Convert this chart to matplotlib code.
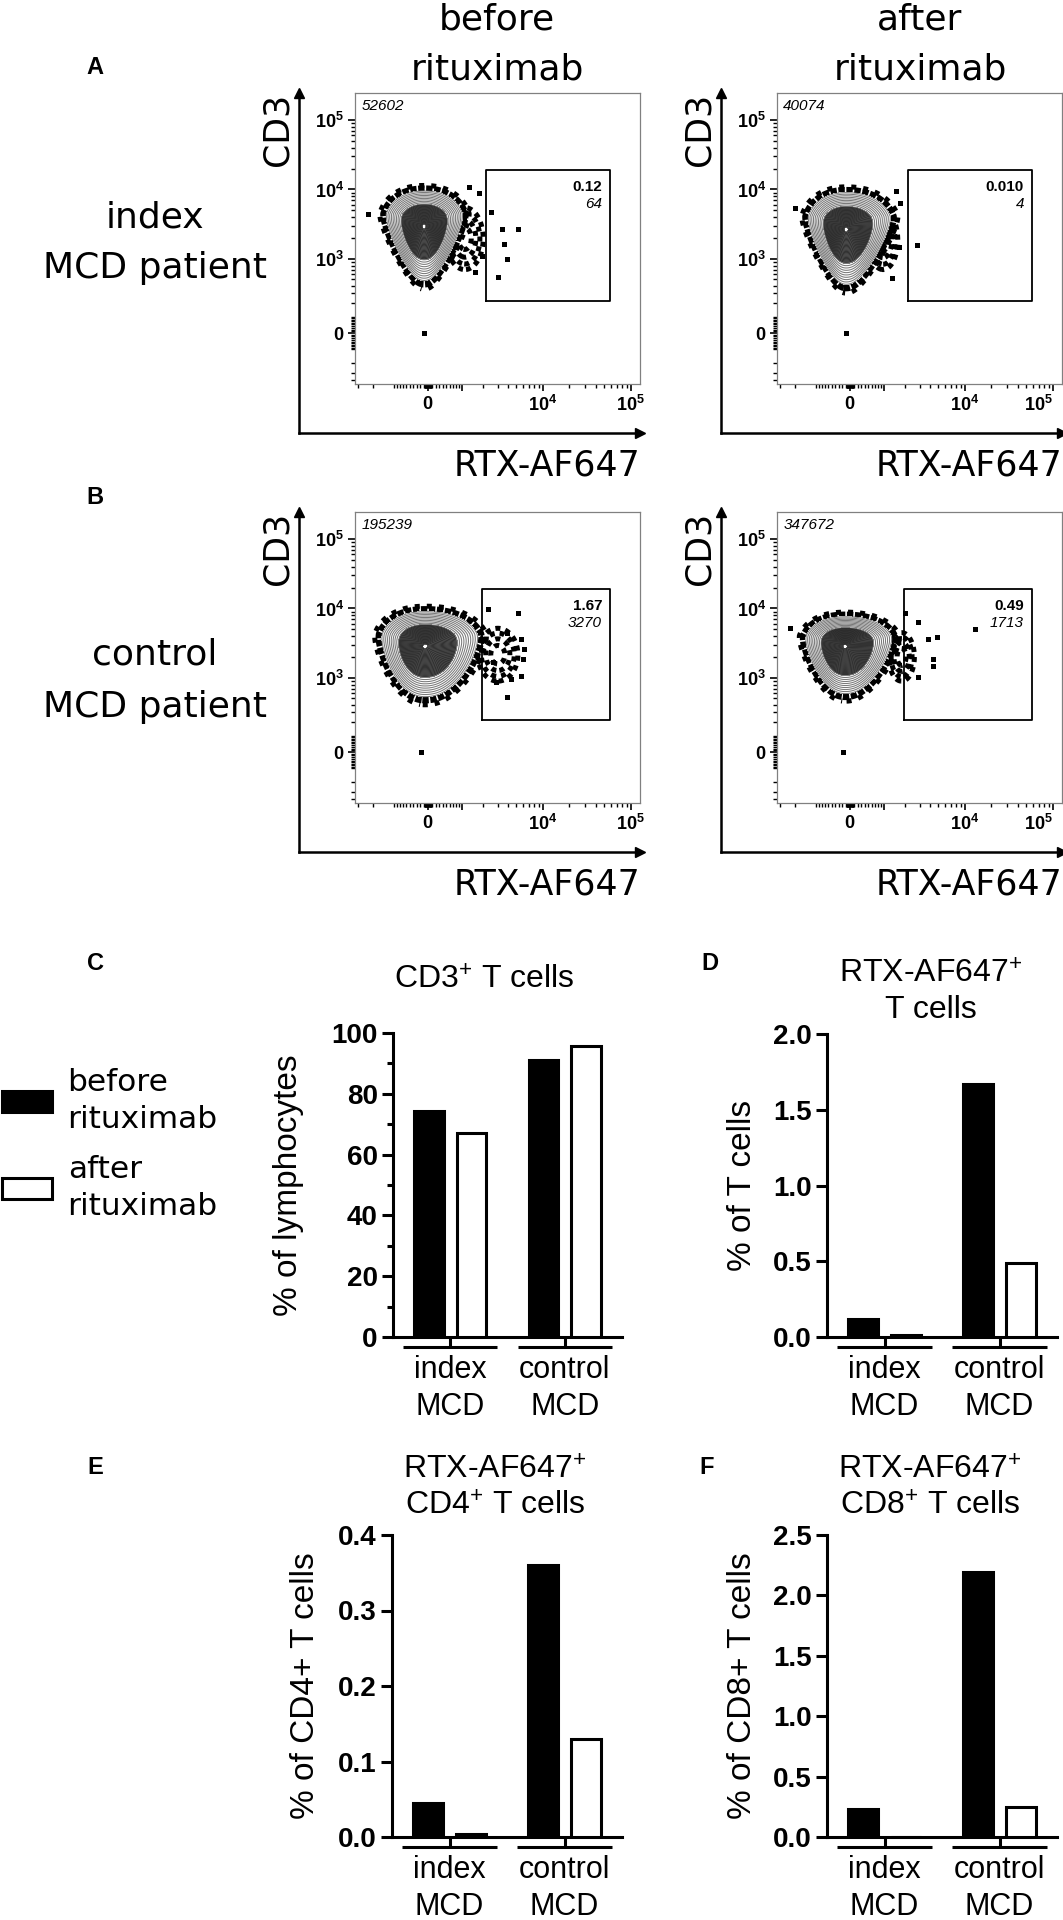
import numpy as np
import matplotlib
matplotlib.use('Agg')
import matplotlib.pyplot as plt
import matplotlib.transforms as mtransforms
from matplotlib.patches import Patch

plt.rcParams['font.family'] = ['DejaVu Sans']
plt.rcParams['mathtext.fontset'] = 'custom'
plt.rcParams['mathtext.rm'] = 'Liberation Sans'
plt.rcParams['mathtext.it'] = 'Liberation Sans:italic'
plt.rcParams['mathtext.bf'] = 'Liberation Sans:bold'
ARIAL = 'Liberation Sans'

# ---------------- flow plots: [A before, A after, B before, B after] ----------------
event_counts = ['52602', '40074', '195239', '347672']
gate_percent = ['0.12', '0.010', '1.67', '0.49']
gate_events = ['64', '4', '3270', '1713']
gate_x_lo = [2200, 2200, 1950, 1950]
gate_x_hi = [58000, 58000, 58000, 58000]
gate_y_lo = [220, 220, 220, 220]
gate_y_hi = [19000, 19000, 19000, 19000]

# main CD3+ population (centre and outer extent, data units)
pop_x_mid = [-100, -100, -80, -130]
pop_y_mid = [3000, 2700, 2900, 2900]
pop_x_lo = [-1400, -1400, -1600, -1500]
pop_x_hi = [1100, 1350, 1800, 1400]
pop_y_lo = [480, 420, 530, 590]
pop_y_hi = [9500, 9000, 9000, 7600]
pop_taper = [0.5, 0.5, 0.3, 0.35]

# dim RTX-AF647 shoulder of events next to the population
tail_x_lo = [500, 500, 1700, 1200]
tail_x_hi = [2000, 1600, 5200, 2600]
tail_y_lo = [700, 700, 900, 900]
tail_y_hi = [5500, 5000, 5200, 4500]

# single events outside the contours
out_x = [[1780, 1570, 1920, 2500, 3400, 5200, 3600, 3900, 3050, -100, -2300, 1300],
         [1720, 1660, 1340, 2780, -100, -2000, 1500],
         [5200, 5950, 5700, 3900, 2880, 4300, 5700, 3900, 2640, -180, 6200, 2300],
         [13100, 4800, 4300, 4300, 2870, 2870, 3770, -180, -2300, 2000]]
out_y = [[9000, 640, 1090, 4700, 2700, 2700, 1630, 990, 550, 0, 4500, 11000],
         [6500, 1470, 530, 1570, 0, 5500, 9500],
         [8700, 1860, 1060, 530, 870, 960, 3600, 4500, 1680, 0, 2600, 9800],
         [5000, 3900, 1860, 1470, 1030, 6300, 3600, 0, 5200, 8500]]

# ---------------- bar charts ----------------
groups = ['index\nMCD', 'control\nMCD']
cd3_before = [74.5, 91.1]
cd3_after = [67.1, 95.7]
rtx_before = [0.12, 1.67]
rtx_after = [0.01, 0.49]
cd4_before = [0.045, 0.36]
cd4_after = [0.004, 0.13]
cd8_before = [0.23, 2.19]
cd8_after = [0.0, 0.25]

W, H = 1063, 1920
fig = plt.figure(figsize=(W / 100, H / 100), dpi=100)


def rect(x0, y0, x1, y1):
    return [x0 / W, 1 - y1 / H, (x1 - x0) / W, (y1 - y0) / H]


def fig_text(x, y, s, **kw):
    fig.text(x / W, 1 - y / H, s, **kw)


X_LW, Y_LW = 1000, 175
X_LIM = (-3300, 128000)
Y_LIM = (-455, 242000)


def minor_ticks(lo, hi, decades):
    vals = {m * d * s for d in decades for m in range(1, 10) for s in (1, -1)}
    return sorted(v for v in vals if lo < v < hi and v not in (1e3, 1e4, 1e5))


def bf(s):
    return r'$\mathbf{' + s + '}$'


def flow_panel(i, x0, y0, right_col):
    # outer axes with arrows
    oax = fig.add_axes(rect(x0 - 56, y0, x0 + 285, y0 + 340))
    oax.patch.set_visible(False)
    oax.spines[['top', 'right']].set_visible(False)
    oax.spines[['left', 'bottom']].set_linewidth(1.8)
    oax.set_xticks([])
    oax.set_yticks([])
    oax.plot(1, 0, '>k', ms=7, transform=oax.transAxes, clip_on=False)
    oax.plot(0, 1, '^k', ms=7, transform=oax.transAxes, clip_on=False)
    oax.set_xlabel('RTX-AF647', loc='right', fontsize=25, labelpad=11)
    oax.set_ylabel('CD3', loc='top', fontsize=25, labelpad=3)

    ax = fig.add_axes(rect(x0, y0, x0 + 285, y0 + 291))
    ax.set_xscale('asinh', linear_width=X_LW)
    ax.set_yscale('asinh', linear_width=Y_LW)

    u = np.linspace(np.arcsinh(X_LIM[0] / X_LW), np.arcsinh(X_LIM[1] / X_LW), 600)
    v = np.linspace(np.arcsinh(Y_LIM[0] / Y_LW), np.arcsinh(Y_LIM[1] / Y_LW), 600)
    U, V = np.meshgrid(u, v)
    X, Y = X_LW * np.sinh(U), Y_LW * np.sinh(V)

    def su(x):
        return np.arcsinh(x / X_LW)

    def sv(y):
        return np.arcsinh(y / Y_LW)

    uc, vc = su(pop_x_mid[i]), sv(pop_y_mid[i])
    down = vc - sv(pop_y_lo[i])
    up = sv(pop_y_hi[i]) - vc
    half_u = np.where(U < uc, uc - su(pop_x_lo[i]), su(pop_x_hi[i]) - uc)
    half_v = np.where(V < vc, down, up)
    # widest a little above the centre, narrowing to a rounded tip at the bottom
    vw = vc + 0.35 * up
    taper = np.clip(1 + pop_taper[i] * (V - vw) / (vw - sv(pop_y_lo[i])), 0.3, 1.0)
    p = 2.2
    r_pop = (np.abs((U - uc) / (half_u * taper)) ** p
             + np.abs((V - vc) / half_v) ** p) ** (1 / p)
    tu0, tu1 = su(tail_x_lo[i]), su(tail_x_hi[i])
    tv0, tv1 = sv(tail_y_lo[i]), sv(tail_y_hi[i])
    r_tail = np.hypot((U - (tu0 + tu1) / 2) / ((tu1 - tu0) / 2),
                      (V - (tv0 + tv1) / 2) / ((tv1 - tv0) / 2))
    r_tail = np.where(r_pop < 1.05, 9, r_tail)

    # dotted halo of single events around the contours
    ax.contour(X, Y, r_pop, levels=[1.07], colors='black', linewidths=4.6,
               linestyles=[(0, (1.0, 0.25))], zorder=2)
    ax.contour(X, Y, r_pop, levels=[1.16], colors='black', linewidths=3.6,
               linestyles=[(0.8, (1.0, 1.4))], zorder=2)
    ax.contour(X, Y, r_tail, levels=[0.35, 0.6, 0.82, 1.0], colors='black',
               linewidths=3.6, linestyles=[(0, (1.0, 1.0))], zorder=2)

    # contour plot: light outer rings, dense dark core
    ax.contourf(X, Y, r_pop, levels=[0, 1.0], colors='white', zorder=3)
    ax.contourf(X, Y, r_pop, levels=[0.05, 0.62], colors='#767676', zorder=3)
    ax.contour(X, Y, r_pop, levels=np.linspace(0.62, 1.0, 10), colors='#7a7a7a',
               linewidths=0.75, zorder=4)
    ax.contour(X, Y, r_pop, levels=np.linspace(0.06, 0.6, 26), colors='#262626',
               linewidths=0.6, zorder=4)
    ax.plot(out_x[i], out_y[i], 's', color='black', ms=3.6, mew=0, zorder=3)

    gx = [gate_x_lo[i], gate_x_hi[i], gate_x_hi[i], gate_x_lo[i], gate_x_lo[i]]
    gy = [gate_y_lo[i], gate_y_lo[i], gate_y_hi[i], gate_y_hi[i], gate_y_lo[i]]
    ax.plot(gx, gy, color='black', lw=1.3, zorder=5)
    ax.annotate(gate_percent[i], xy=(gate_x_hi[i], gate_y_hi[i]), xytext=(-5.5, -12),
                textcoords='offset points', ha='right', va='center',
                fontsize=11, fontweight='bold', family=ARIAL)
    ax.annotate(gate_events[i], xy=(gate_x_hi[i], gate_y_hi[i]), xytext=(-5.5, -24.5),
                textcoords='offset points', ha='right', va='center',
                fontsize=11, style='italic', family=ARIAL)
    ax.text(0.022, 0.955, event_counts[i], transform=ax.transAxes, ha='left', va='center',
            fontsize=11, style='italic', family=ARIAL)

    ax.set_xlim(*X_LIM)
    ax.set_ylim(*Y_LIM)
    ax.set_xticks([0, 1e3, 1e4, 1e5], [bf('0'), '', bf('10^{4}'), bf('10^{5}')])
    ax.set_yticks([0, 1e3, 1e4, 1e5], [bf('0'), bf('10^{3}'), bf('10^{4}'), bf('10^{5}')])
    ax.set_xticks(minor_ticks(*X_LIM, [10, 100, 1000, 10000]), minor=True)
    ax.set_yticks(minor_ticks(*Y_LIM, [10, 100, 1000, 10000]), minor=True)
    ax.tick_params(which='major', length=5, width=1.2, labelsize=13, pad=3)
    ax.tick_params(which='minor', length=2.8, width=1.0)
    if right_col:
        ax.get_xticklabels()[-1].set_horizontalalignment('right')
    for s in ax.spines.values():
        s.set_color('#808080')
        s.set_linewidth(0.9)


# column titles and row labels
fig_text(497, 20, 'before', ha='center', va='center', fontsize=26)
fig_text(497, 70, 'rituximab', ha='center', va='center', fontsize=26)
fig_text(920, 20, 'after', ha='center', va='center', fontsize=26)
fig_text(920, 70, 'rituximab', ha='center', va='center', fontsize=26)
fig_text(155, 217, 'index', ha='center', va='center', fontsize=26)
fig_text(155, 268, 'MCD patient', ha='center', va='center', fontsize=26)
fig_text(155, 655, 'control', ha='center', va='center', fontsize=26)
fig_text(155, 707, 'MCD patient', ha='center', va='center', fontsize=26)

flow_panel(0, 355, 93, False)
flow_panel(1, 777, 93, True)
flow_panel(2, 355, 512, False)
flow_panel(3, 777, 512, True)


def bar_panel(px, before, after, ymax, ystep, fmt, minor_step, title, title_xy,
              ylabel, ylabel_x):
    ax = fig.add_axes(rect(*px))
    pos = np.arange(1, len(groups) + 1)
    ax.bar(pos - 0.185, before, width=0.26, color='black', edgecolor='black',
           linewidth=2.2, zorder=3)
    ax.bar(pos + 0.185, after, width=0.26, color='white', edgecolor='black',
           linewidth=2.2, zorder=3)
    ax.set_xlim(0.5, 2.5)
    ax.set_ylim(0, ymax)
    ax.spines[['top', 'right']].set_visible(False)
    ax.spines[['left', 'bottom']].set_linewidth(2.2)
    yt = np.arange(0, ymax + ystep / 2, ystep)
    ax.set_yticks(yt, [fmt.format(t) for t in yt])
    if minor_step:
        ax.set_yticks(np.arange(0, ymax, minor_step), minor=True)
    ax.tick_params(axis='y', which='major', length=8, width=2.2, labelsize=20, pad=3)
    ax.tick_params(axis='y', which='minor', length=4, width=2.2)
    for lbl in ax.get_yticklabels():
        lbl.set_fontweight('bold')
        lbl.set_family(ARIAL)
    ax.set_xticks(pos, groups)
    ax.tick_params(axis='x', length=7.2, width=2.2, labelsize=22, pad=6)
    for lbl in ax.get_xticklabels():
        lbl.set_family(ARIAL)
        lbl.set_linespacing(1.3)
    trans = mtransforms.blended_transform_factory(ax.transData, ax.transAxes)
    yb = -7.2 * 100 / 72 / ax.bbox.height
    for c in pos:
        ax.plot([c - 0.41, c + 0.41], [yb, yb], color='black', lw=2.2,
                transform=trans, clip_on=False, solid_capstyle='butt')
    ax.text(title_xy[0], title_xy[1], title, transform=ax.transAxes, ha='center',
            va='center', fontsize=23, family=ARIAL, linespacing=1.25)
    ax.set_ylabel(ylabel, fontsize=24, family=ARIAL)
    ax.yaxis.set_label_coords(ylabel_x, 0.5)
    return ax


bar_panel((393, 1033, 622, 1337), cd3_before, cd3_after, 100, 20, '{:.0f}', 10,
          'CD3$^{+}$ T cells', (0.40, 1.174), '% of lymphocytes', -0.39)
bar_panel((827, 1034, 1057, 1337), rtx_before, rtx_after, 2.0, 0.5, '{:.1f}', None,
          'RTX-AF647$^{+}$\nT cells', (0.452, 1.137), '% of T cells', -0.30)
bar_panel((392, 1535, 622, 1837), cd4_before, cd4_after, 0.4, 0.1, '{:.1f}', None,
          'RTX-AF647$^{+}$\nCD4$^{+}$ T cells', (0.448, 1.154), '% of CD4+ T cells', -0.31)
bar_panel((827, 1535, 1057, 1837), cd8_before, cd8_after, 2.5, 0.5, '{:.1f}', None,
          'RTX-AF647$^{+}$\nCD8$^{+}$ T cells', (0.448, 1.154), '% of CD8+ T cells', -0.30)

# legend
handles = [Patch(facecolor='black', edgecolor='black', linewidth=2.2),
           Patch(facecolor='white', edgecolor='black', linewidth=2.2)]
leg = fig.legend(handles, ['before\nrituximab', 'after\nrituximab'], loc='upper left',
                 bbox_to_anchor=(2 / W, 1 - 1068 / H), frameon=False, fontsize=22.5,
                 handlelength=1.6, handleheight=0.65, handletextpad=0.5,
                 labelspacing=0.7, borderpad=0, borderaxespad=0)
for t in leg.get_texts():
    t.set_linespacing(1.33)

# panel letters
for letter, (lx, ly) in zip('ABCDEF', [(95, 68), (95, 498), (95, 963), (710, 963),
                                       (95, 1467), (707, 1467)]):
    fig_text(lx, ly, letter, ha='center', va='center', fontsize=17,
             fontweight='bold', family=ARIAL)

fig.savefig('out.png', dpi=100)
